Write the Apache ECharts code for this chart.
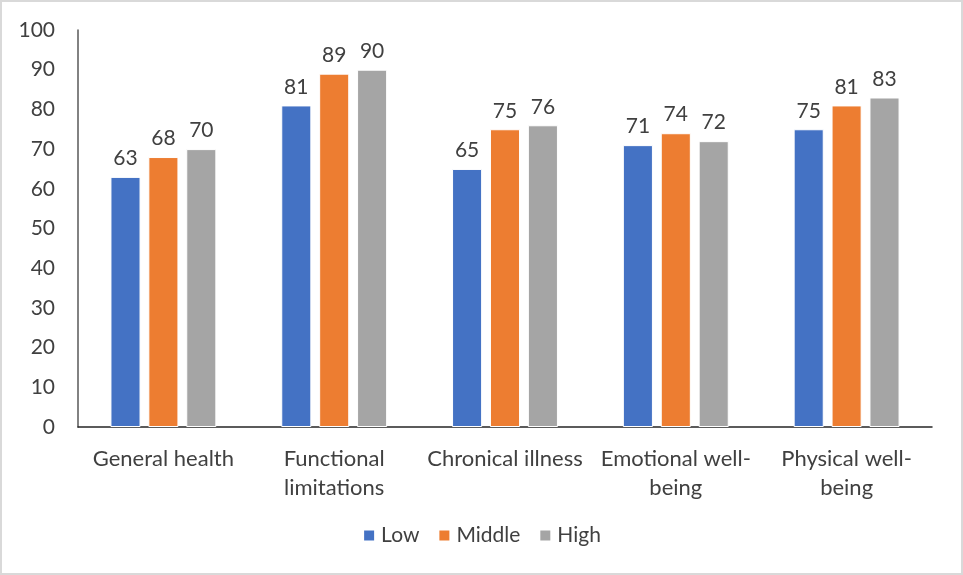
<!DOCTYPE html>
<html>
<head>
<meta charset="utf-8">
<script src="https://cdn.jsdelivr.net/npm/echarts@6/dist/echarts.min.js"></script>
<style>
  html, body { margin: 0; padding: 0; background: #fff; }
  #frame { position: absolute; left: 0; top: 0; width: 959px; height: 571px; border: 2px solid #d9d9d9; }
  #chart { width: 963px; height: 575px; position: absolute; left: 0; top: 0; }
</style>
</head>
<body>
<div id="frame"></div>
<div id="chart"></div>
<script>
// Health-related quality of life scores by group
const categories = ['General health', 'Functional\nlimitations', 'Chronical illness', 'Emotional well-\nbeing', 'Physical well-\nbeing'];
const lowValues = [63, 81, 65, 71, 75];
const middleValues = [68, 89, 75, 74, 81];
const highValues = [70, 90, 76, 72, 83];
const yTicks = [0, 10, 20, 30, 40, 50, 60, 70, 80, 90, 100];

const FONT = 'Lato, "Noto Sans", sans-serif';
const TEXT = '#404040';

function barSeries(name, data, color) {
  return {
    name: name,
    type: 'bar',
    data: data,
    barGap: '26%',
    barCategoryGap: '38%',
    itemStyle: { color: color, borderColor: '#ffffff', borderWidth: 1 },
    label: {
      show: true,
      position: 'top',
      distance: 8,
      color: TEXT,
      fontFamily: FONT,
      fontSize: 21
    }
  };
}

const chart = echarts.init(document.getElementById('chart'), null, { renderer: 'canvas' });
chart.setOption({
  animation: false,
  backgroundColor: 'transparent',
  grid: { left: 78, right: 31, top: 30, bottom: 148, containLabel: false },
  legend: {
    bottom: 24,
    left: 'center',
    itemWidth: 12,
    itemHeight: 12,
    itemGap: 18,
    icon: 'rect',
    textStyle: { color: TEXT, fontFamily: FONT, fontSize: 21, padding: [0, 0, 0, 1] },
    data: ['Low', 'Middle', 'High']
  },
  xAxis: {
    type: 'category',
    data: categories,
    axisLine: { lineStyle: { color: '#262626', width: 1.5 } },
    axisTick: { show: false },
    axisLabel: {
      color: TEXT,
      fontFamily: FONT,
      fontSize: 22,
      lineHeight: 29,
      margin: 17,
      interval: 0
    }
  },
  yAxis: {
    type: 'value',
    min: yTicks[0],
    max: yTicks[yTicks.length - 1],
    interval: yTicks[1] - yTicks[0],
    axisLine: { show: true, lineStyle: { color: '#595959', width: 1.5 } },
    axisTick: { show: false },
    splitLine: { show: false },
    axisLabel: { color: TEXT, fontFamily: FONT, fontSize: 21, margin: 23 }
  },
  series: [
    barSeries('Low', lowValues, '#4472c4'),
    barSeries('Middle', middleValues, '#ed7d31'),
    barSeries('High', highValues, '#a5a5a5')
  ]
});
</script>
</body>
</html>
